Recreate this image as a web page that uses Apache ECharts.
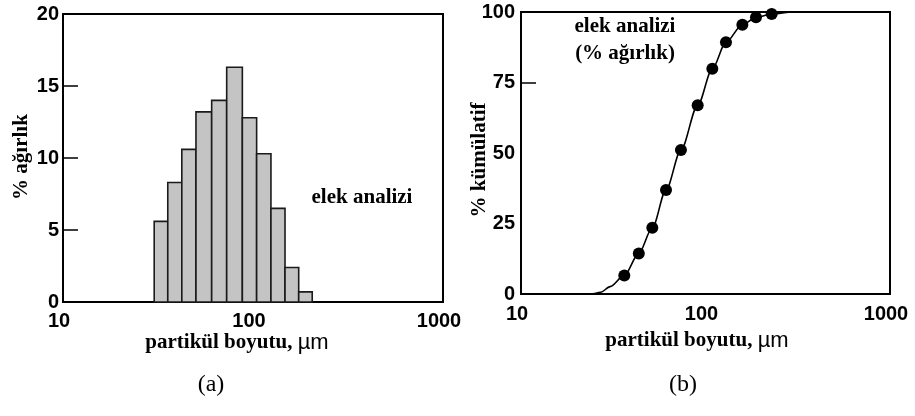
<!DOCTYPE html>
<html>
<head>
<meta charset="utf-8">
<script src="https://cdn.jsdelivr.net/npm/echarts@6/dist/echarts.min.js"></script>
<style>
  html, body { margin: 0; padding: 0; background: #fff; }
  #chart { width: 915px; height: 416px; }
</style>
</head>
<body>
<div id="chart"></div>
<script>
// (a) sieve histogram: bin edges (µm) and % weight per bin
const binLow = [30.2, 35.6, 42.2, 50.1, 60.6, 72.7, 87.9, 104.5, 124.3, 147.4, 174]
const binHigh = [35.6, 42.2, 50.1, 60.6, 72.7, 87.9, 104.5, 124.3, 147.4, 174, 205]
const weightPct = [5.6, 8.3, 10.6, 13.2, 14.0, 16.3, 12.8, 10.3, 6.5, 2.4, 0.7]

// (b) cumulative points
const cumSize = [36.3, 43.5, 51.5, 61.1, 73.6, 90.7, 108.9, 129.1, 158.4, 187.8, 228.4]
const cumPct = [6.6, 14.4, 23.5, 36.9, 51.1, 66.9, 79.9, 89.3, 95.5, 98.1, 99.3]

// (b) fitted curve
const curveSize = [10, 24, 27, 30.4, 36.3, 43.5, 51.5, 61.1, 73.6, 90.7, 108.9, 129.1, 158.4, 187.8, 228.4, 300, 1000]
const curvePct = [0, 0, 0.6, 2.6, 6.6, 14.4, 23.5, 36.9, 51.1, 66.9, 79.9, 89.3, 95.5, 98.1, 99.3, 100, 100]

const xTicks = [10, 100, 1000]
const yTicksA = [0, 5, 10, 15, 20]
const yTicksB = [0, 25, 50, 75, 100]

const chart = echarts.init(document.getElementById('chart'))

const tickFont = {
  color: '#000',
  fontFamily: 'Liberation Sans',
  fontWeight: 'bold',
  fontSize: 20,
}
const serifBold = 'bold 21px "Liberation Serif"'

function xAxisFor(gridIndex, margin) {
  return {
    gridIndex: gridIndex,
    type: 'log',
    logBase: 10,
    min: xTicks[0],
    max: xTicks[xTicks.length - 1],
    axisLine: { show: true, lineStyle: { color: '#000', width: 2 } },
    axisTick: { show: false },
    splitLine: { show: false },
    axisLabel: Object.assign({
      margin: margin,
      padding: [0, 8, 0, 0],
      formatter: v => String(Math.round(v)),
    }, tickFont),
  }
}

function yAxisFor(gridIndex, ticks, tickAt, margin) {
  return {
    gridIndex: gridIndex,
    type: 'value',
    min: ticks[0],
    max: ticks[ticks.length - 1],
    interval: ticks[1] - ticks[0],
    axisLine: { show: true, lineStyle: { color: '#000', width: 2 } },
    axisTick: {
      show: true,
      inside: true,
      length: 15,
      customValues: tickAt,
      lineStyle: { color: '#000', width: 1.5 },
    },
    splitLine: { show: false },
    axisLabel: Object.assign({ margin: margin }, tickFont),
  }
}

const option = {
  backgroundColor: '#fff',
  animation: false,
  grid: [
    { left: 63, top: 14, width: 380, height: 288, show: true, borderColor: '#000', borderWidth: 2, backgroundColor: 'transparent' },
    { left: 521, top: 12, width: 369, height: 282, show: true, borderColor: '#000', borderWidth: 2, backgroundColor: 'transparent' },
  ],
  xAxis: [xAxisFor(0, 9), xAxisFor(1, 10)],
  yAxis: [
    yAxisFor(0, yTicksA, [5, 10, 15], 4),
    yAxisFor(1, yTicksB, [75], 6),
  ],
  series: [
    {
      type: 'custom',
      xAxisIndex: 0,
      yAxisIndex: 0,
      encode: { x: [0, 1], y: 2 },
      data: binLow.map((lo, i) => [lo, binHigh[i], weightPct[i]]),
      renderItem: function (params, api) {
        const p0 = api.coord([api.value(0), api.value(2)])
        const p1 = api.coord([api.value(1), 0])
        return {
          type: 'rect',
          shape: { x: p0[0], y: p0[1], width: p1[0] - p0[0], height: p1[1] - p0[1] },
          style: { fill: '#c4c4c4', stroke: '#1a1a1a', lineWidth: 1.6 },
        }
      },
    },
    {
      type: 'line',
      xAxisIndex: 1,
      yAxisIndex: 1,
      smooth: 0.3,
      smoothMonotone: 'x',
      symbol: 'none',
      lineStyle: { color: '#000', width: 1.6 },
      data: curveSize.map((s, i) => [s, curvePct[i]]),
      z: 2,
    },
    {
      type: 'scatter',
      xAxisIndex: 1,
      yAxisIndex: 1,
      symbol: 'circle',
      symbolSize: 12,
      itemStyle: { color: '#000', opacity: 1 },
      data: cumSize.map((s, i) => [s, cumPct[i]]),
      z: 3,
    },
  ],
  graphic: [
    { type: 'text', x: 362, y: 198, style: { text: 'elek analizi', font: serifBold, fill: '#000', align: 'center', verticalAlign: 'middle' } },
    { type: 'text', x: 625, y: 27, style: { text: 'elek analizi', font: serifBold, fill: '#000', align: 'center', verticalAlign: 'middle' } },
    { type: 'text', x: 625, y: 54, style: { text: '(% ağırlık)', font: serifBold, fill: '#000', align: 'center', verticalAlign: 'middle' } },
    {
      type: 'text', x: 237, y: 343,
      style: {
        text: '{a|partikül boyutu, }{b|µm}',
        align: 'center', verticalAlign: 'middle',
        rich: {
          a: { font: serifBold, fill: '#000' },
          b: { font: '22px "Liberation Sans"', fill: '#000' },
        },
      },
    },
    {
      type: 'text', x: 697, y: 341,
      style: {
        text: '{a|partikül boyutu, }{b|µm}',
        align: 'center', verticalAlign: 'middle',
        rich: {
          a: { font: serifBold, fill: '#000' },
          b: { font: '22px "Liberation Sans"', fill: '#000' },
        },
      },
    },
    { type: 'text', x: 22, y: 157, rotation: Math.PI / 2, style: { text: '% ağırlık', font: serifBold, fill: '#000', align: 'center', verticalAlign: 'middle' } },
    { type: 'text', x: 480, y: 160, rotation: Math.PI / 2, style: { text: '% kümülatif', font: serifBold, fill: '#000', align: 'center', verticalAlign: 'middle' } },
    { type: 'text', x: 211, y: 385, style: { text: '(a)', font: '24px "Liberation Serif"', fill: '#000', align: 'center', verticalAlign: 'middle' } },
    { type: 'text', x: 683, y: 385, style: { text: '(b)', font: '24px "Liberation Serif"', fill: '#000', align: 'center', verticalAlign: 'middle' } },
  ],
}

option && chart.setOption(option)
</script>
</body>
</html>
